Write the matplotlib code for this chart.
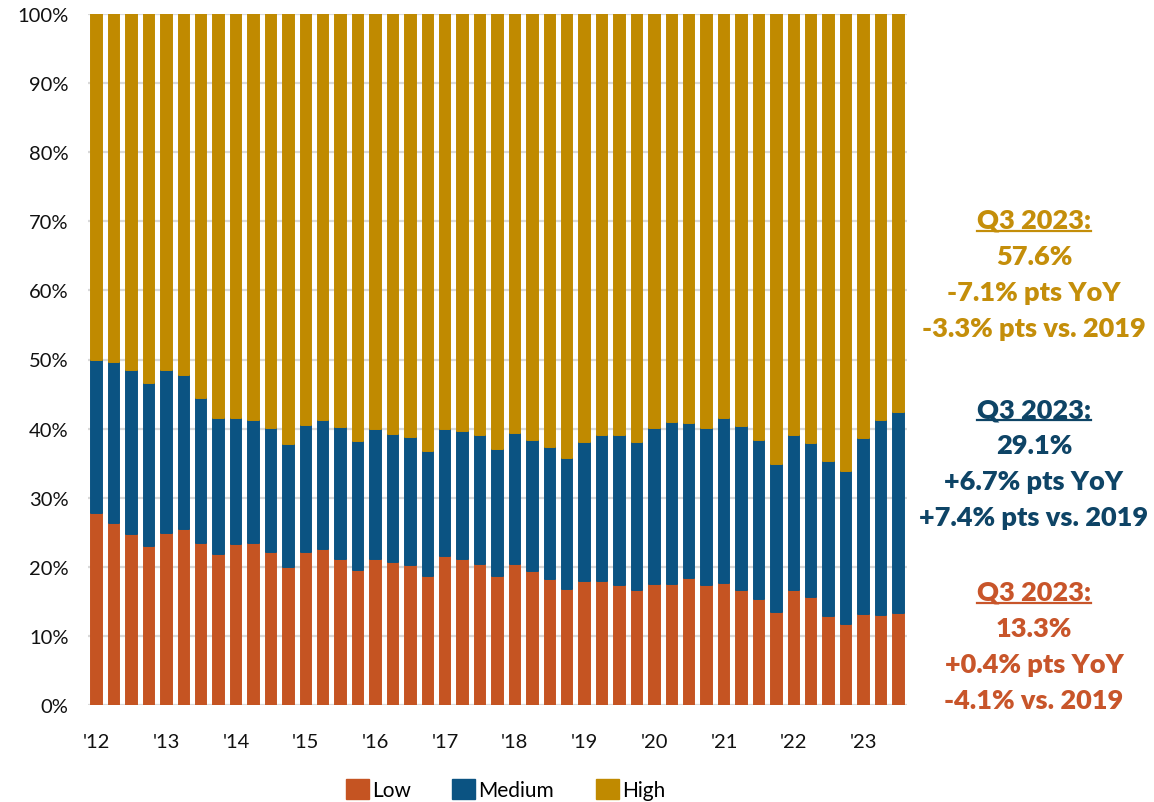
import matplotlib
matplotlib.use("Agg")
import matplotlib.pyplot as plt
from matplotlib.patches import Patch
from matplotlib.lines import Line2D
import numpy as np

plt.rcParams['font.family'] = ['Lato', 'DejaVu Sans']

# Quarterly shares (%), Q1 2012 through Q3 2023
quarters = [f"{y} Q{q}" for y in range(2012, 2024) for q in range(1, 5)][:47]
low = [27.8, 26.4, 24.7, 23.0, 24.9, 25.5, 23.5, 21.8, 23.3, 23.4, 22.1, 19.9,
       22.1, 22.6, 21.1, 19.5, 21.1, 20.7, 20.2, 18.6, 21.6, 21.1, 20.4, 18.6,
       20.4, 19.4, 18.2, 16.8, 17.9, 17.9, 17.4, 16.6, 17.5, 17.5, 18.4, 17.3,
       17.6, 16.7, 15.3, 13.4, 16.7, 15.7, 12.9, 11.7, 13.1, 13.0, 13.3]
medium = [22.1, 23.3, 23.8, 23.6, 23.6, 22.3, 21.0, 19.8, 18.3, 17.9, 18.0, 17.9,
          18.4, 18.6, 19.1, 18.7, 18.8, 18.5, 18.6, 18.2, 18.3, 18.5, 18.7, 18.4,
          19.0, 19.0, 19.1, 19.0, 20.2, 21.2, 21.7, 21.5, 22.6, 23.5, 22.4, 22.8,
          23.9, 23.7, 23.0, 21.5, 22.4, 22.2, 22.4, 22.2, 25.5, 28.3, 29.1]
high = [50.1, 50.3, 51.5, 53.4, 51.5, 52.2, 55.5, 58.4, 58.4, 58.7, 59.9, 62.2,
        59.5, 58.8, 59.8, 61.8, 60.1, 60.8, 61.2, 63.2, 60.1, 60.4, 60.9, 63.0,
        60.6, 61.6, 62.7, 64.2, 61.9, 60.9, 60.9, 61.9, 59.9, 59.0, 59.2, 59.9,
        58.5, 59.6, 61.7, 65.1, 60.9, 62.1, 64.7, 66.1, 61.4, 58.7, 57.6]
year_labels = ["'12", "'13", "'14", "'15", "'16", "'17", "'18", "'19",
               "'20", "'21", "'22", "'23"]
series_names = ["Low", "Medium", "High"]

c_low, c_med, c_high = "#C55422", "#0B5382", "#C08A00"
t_low, t_med, t_high = "#C8552A", "#0E4466", "#C48E0A"

fig = plt.figure(figsize=(11.54, 8.03), dpi=100)
ax = fig.add_axes([88 / 1154, 97 / 803, 819 / 1154, 691 / 803])

x = np.arange(len(low))
low_a, med_a, high_a = np.array(low), np.array(medium), np.array(high)
w = 0.6
kw = dict(width=w, linewidth=1.4, joinstyle='round', zorder=3)
ax.bar(x, low_a, color=c_low, edgecolor=c_low, **kw)
ax.bar(x, med_a, bottom=low_a, color=c_med, edgecolor=c_med, **kw)
ax.bar(x, high_a, bottom=low_a + med_a, color=c_high, edgecolor=c_high, **kw)

ax.set_xlim(-0.5, len(low) - 0.5)
ax.set_ylim(0, 100)
ax.set_yticks(np.arange(0, 101, 10))
ax.set_yticklabels([f"{v}%" for v in range(0, 101, 10)])
ax.set_xticks(np.arange(0, len(low), 4))
ax.set_xticklabels(year_labels)
ax.grid(axis='y', color='#D9D9D9', linewidth=1.6, zorder=0)
ax.set_axisbelow(True)
for s in ax.spines.values():
    s.set_visible(False)
ax.tick_params(axis='both', length=0, labelsize=14.5, colors='#111111')
ax.tick_params(axis='x', pad=20)
ax.tick_params(axis='y', pad=14)

# Legend below the plot
handles = [Patch(facecolor=c, edgecolor=c) for c in (c_low, c_med, c_high)]
fig.legend(handles, series_names, loc='center', bbox_to_anchor=(0.438, 0.016),
           ncol=3, frameon=False, fontsize=15, handlelength=1.1,
           handleheight=1.1, handletextpad=0.15, columnspacing=2.0)

# Callouts for Q3 2023
blocks = [
    (t_high, [("Q3 2023:", True), ("57.6%", False), ("-7.1% pts YoY", False),
              ("-3.3% pts vs. 2019", False)], 221),
    (t_med, [("Q3 2023:", True), ("29.1%", False), ("+6.7% pts YoY", False),
             ("+7.4% pts vs. 2019", False)], 410),
    (t_low, [("Q3 2023:", True), ("13.3%", False), ("+0.4% pts YoY", False),
             ("-4.1% vs. 2019", False)], 593),
]
cx = 1034 / 1154
underlined = []
for col, lines, ytop in blocks:
    for i, (txt, ul) in enumerate(lines):
        yy = 1 - (ytop + i * 36) / 803
        t = fig.text(cx, yy, txt, ha='center', va='center', color=col,
                     fontsize=19.5, fontweight='heavy')
        if ul:
            underlined.append((t, col))

fig.canvas.draw()
r = fig.canvas.get_renderer()
for t, col in underlined:
    bb = t.get_window_extent(renderer=r)
    yline = (bb.y0 + 1) / fig.bbox.height
    fig.add_artist(Line2D([bb.x0 / fig.bbox.width, bb.x1 / fig.bbox.width],
                          [yline, yline], color=col, linewidth=1.6))

fig.savefig("out.png", dpi=100)
